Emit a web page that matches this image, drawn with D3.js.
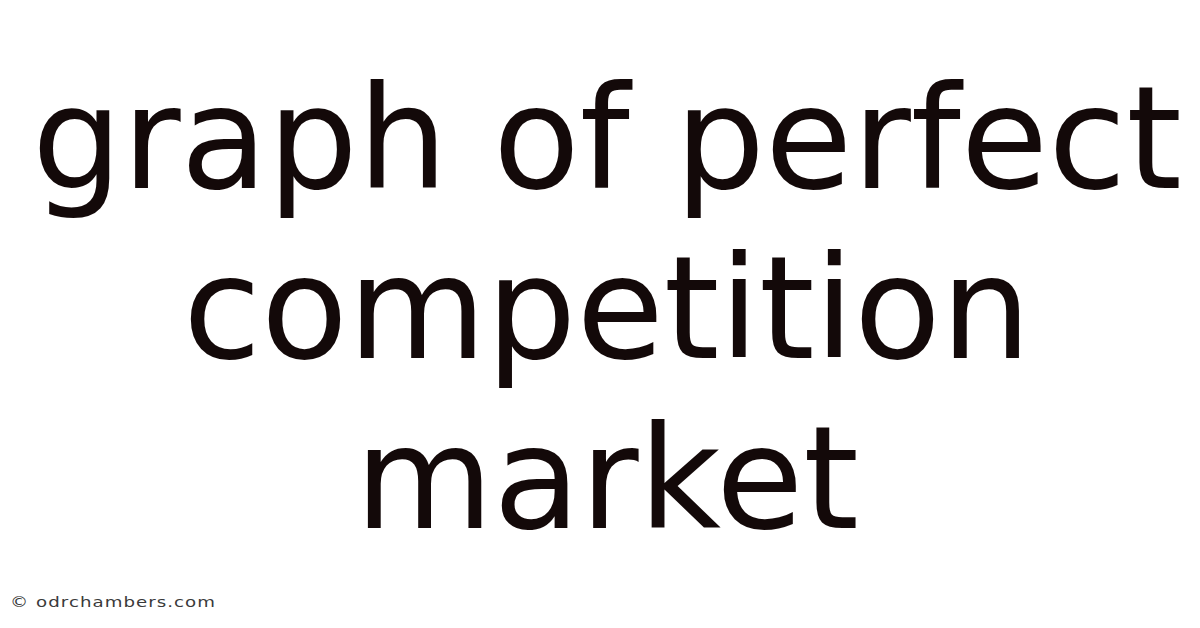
<!DOCTYPE html>
<html>
<head>
<meta charset="utf-8">
<script src="https://cdn.jsdelivr.net/npm/d3@7"></script>
<style>
  html, body { margin: 0; padding: 0; background: #fff; }
</style>
</head>
<body>
<svg id="card"></svg>
<script>
// Title lines, top to bottom.
const titleLines = ["graph of perfect", "competition", "market"];
const watermark = "\u00a9 odrchambers.com";

const width = 1200, height = 628;

const svg = d3.select("#card")
  .attr("width", width)
  .attr("height", height)
  .attr("viewBox", "0 0 " + width + " " + height);

svg.append("rect")
  .attr("width", width)
  .attr("height", height)
  .attr("fill", "#ffffff");

// Baselines sit on an evenly spaced band.
const y = d3.scalePoint()
  .domain(titleLines)
  .range([188, 528]);

svg.append("g")
  .selectAll("text")
  .data(titleLines)
  .join("text")
  .attr("x", 607)
  .attr("y", d => y(d))
  .attr("text-anchor", "middle")
  .style("font-family", "'DejaVu Sans', sans-serif")
  .style("font-size", "142px")
  .style("fill", "#130909")
  .text(d => d);

// The watermark in the reference is stretched sideways.
svg.append("text")
  .attr("transform", "translate(10,607) scale(1.3,1)")
  .style("font-family", "'DejaVu Sans', sans-serif")
  .style("font-size", "14px")
  .style("letter-spacing", "0.8px")
  .style("fill", "#3a3a3a")
  .text(watermark);
</script>
</body>
</html>
